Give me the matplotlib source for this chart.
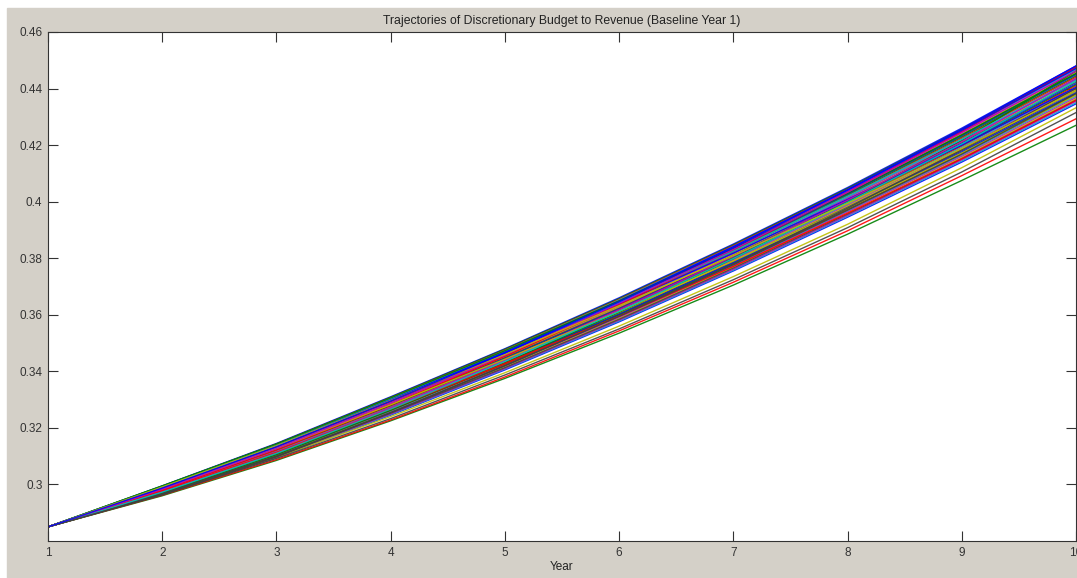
import matplotlib
matplotlib.use("Agg")
import matplotlib.pyplot as plt
from matplotlib.patches import Rectangle
from matplotlib.ticker import FuncFormatter

plt.rcParams['font.family'] = ['Liberation Sans', 'DejaVu Sans']

years = [1, 2, 3, 4, 5, 6, 7, 8, 9, 10]

# low outliers
low_green = [0.2850, 0.2960, 0.3085, 0.3225, 0.3375, 0.3535, 0.3705, 0.3885, 0.4075, 0.4270]
low_red = [0.2850, 0.2962, 0.3088, 0.3228, 0.3380, 0.3543, 0.3715, 0.3897, 0.4092, 0.4293]
low_yellow = [0.2850, 0.2966, 0.3096, 0.3240, 0.3395, 0.3560, 0.3735, 0.3920, 0.4120, 0.4332]
low_black = [0.2850, 0.2964, 0.3092, 0.3233, 0.3387, 0.3550, 0.3724, 0.3908, 0.4105, 0.4315]

# main bundle, top of the band first
bundle = [
    [0.2850, 0.2995, 0.3145, 0.3310, 0.3480, 0.3660, 0.3850, 0.4050, 0.4260, 0.4480],
    [0.2850, 0.2994, 0.3143, 0.3308, 0.3478, 0.3657, 0.3847, 0.4047, 0.4256, 0.4476],
    [0.2850, 0.2993, 0.3142, 0.3306, 0.3475, 0.3654, 0.3844, 0.4043, 0.4252, 0.4471],
    [0.2850, 0.2992, 0.3140, 0.3304, 0.3473, 0.3652, 0.3841, 0.4040, 0.4248, 0.4467],
    [0.2850, 0.2991, 0.3138, 0.3301, 0.3470, 0.3649, 0.3837, 0.4036, 0.4244, 0.4462],
    [0.2850, 0.2990, 0.3137, 0.3299, 0.3468, 0.3646, 0.3834, 0.4033, 0.4240, 0.4458],
    [0.2850, 0.2989, 0.3135, 0.3297, 0.3465, 0.3643, 0.3831, 0.4029, 0.4236, 0.4453],
    [0.2850, 0.2988, 0.3133, 0.3295, 0.3463, 0.3640, 0.3828, 0.4026, 0.4232, 0.4449],
    [0.2850, 0.2987, 0.3132, 0.3293, 0.3460, 0.3637, 0.3825, 0.4022, 0.4228, 0.4444],
    [0.2850, 0.2986, 0.3130, 0.3291, 0.3458, 0.3635, 0.3822, 0.4019, 0.4224, 0.4440],
    [0.2850, 0.2985, 0.3128, 0.3288, 0.3455, 0.3632, 0.3818, 0.4015, 0.4220, 0.4435],
    [0.2850, 0.2984, 0.3127, 0.3286, 0.3453, 0.3629, 0.3815, 0.4012, 0.4216, 0.4431],
    [0.2850, 0.2983, 0.3125, 0.3284, 0.3450, 0.3626, 0.3812, 0.4008, 0.4212, 0.4426],
    [0.2850, 0.2982, 0.3123, 0.3282, 0.3448, 0.3623, 0.3809, 0.4005, 0.4208, 0.4422],
    [0.2850, 0.2981, 0.3122, 0.3280, 0.3445, 0.3620, 0.3806, 0.4001, 0.4204, 0.4417],
    [0.2850, 0.2980, 0.3120, 0.3278, 0.3443, 0.3618, 0.3803, 0.3998, 0.4200, 0.4413],
    [0.2850, 0.2979, 0.3118, 0.3275, 0.3440, 0.3615, 0.3799, 0.3994, 0.4196, 0.4409],
    [0.2850, 0.2978, 0.3117, 0.3273, 0.3438, 0.3612, 0.3796, 0.3991, 0.4192, 0.4404],
    [0.2850, 0.2977, 0.3115, 0.3271, 0.3435, 0.3609, 0.3793, 0.3987, 0.4188, 0.4400],
    [0.2850, 0.2976, 0.3113, 0.3269, 0.3433, 0.3606, 0.3790, 0.3984, 0.4184, 0.4395],
    [0.2850, 0.2975, 0.3112, 0.3267, 0.3430, 0.3603, 0.3787, 0.3980, 0.4180, 0.4391],
    [0.2850, 0.2974, 0.3110, 0.3265, 0.3428, 0.3601, 0.3784, 0.3977, 0.4176, 0.4386],
    [0.2850, 0.2973, 0.3108, 0.3262, 0.3425, 0.3598, 0.3780, 0.3973, 0.4172, 0.4382],
    [0.2850, 0.2972, 0.3107, 0.3260, 0.3423, 0.3595, 0.3777, 0.3970, 0.4168, 0.4377],
    [0.2850, 0.2971, 0.3105, 0.3258, 0.3420, 0.3592, 0.3774, 0.3966, 0.4164, 0.4373],
    [0.2850, 0.2970, 0.3103, 0.3256, 0.3418, 0.3589, 0.3771, 0.3963, 0.4160, 0.4368],
    [0.2850, 0.2969, 0.3102, 0.3254, 0.3415, 0.3586, 0.3768, 0.3959, 0.4156, 0.4364],
    [0.2850, 0.2968, 0.3100, 0.3252, 0.3413, 0.3584, 0.3765, 0.3956, 0.4152, 0.4359],
]
bundle_low = [
    [0.2850, 0.2965, 0.3095, 0.3245, 0.3405, 0.3575, 0.3755, 0.3945, 0.4140, 0.4346],
    [0.2850, 0.2966, 0.3097, 0.3247, 0.3408, 0.3578, 0.3758, 0.3949, 0.4144, 0.4350],
    [0.2850, 0.2967, 0.3098, 0.3249, 0.3410, 0.3581, 0.3761, 0.3952, 0.4148, 0.4355],
]
# runs that drift across the band
crossing = [
    [0.2850, 0.2990, 0.3137, 0.3299, 0.3465, 0.3637, 0.3818, 0.4008, 0.4200, 0.4404],
    [0.2850, 0.2970, 0.3105, 0.3262, 0.3430, 0.3609, 0.3799, 0.4001, 0.4216, 0.4462],
    [0.2850, 0.2980, 0.3122, 0.3282, 0.3453, 0.3635, 0.3828, 0.4033, 0.4248, 0.4476],
    [0.2850, 0.2993, 0.3140, 0.3301, 0.3468, 0.3643, 0.3825, 0.4019, 0.4220, 0.4431],
    [0.2850, 0.2975, 0.3113, 0.3271, 0.3440, 0.3618, 0.3806, 0.4005, 0.4212, 0.4435],
    [0.2850, 0.2985, 0.3127, 0.3282, 0.3443, 0.3612, 0.3790, 0.3977, 0.4172, 0.4377],
    [0.2850, 0.2967, 0.3100, 0.3254, 0.3420, 0.3595, 0.3780, 0.3977, 0.4184, 0.4400],
    [0.2850, 0.2989, 0.3137, 0.3299, 0.3468, 0.3649, 0.3841, 0.4043, 0.4256, 0.4480],
    [0.2850, 0.2995, 0.3143, 0.3306, 0.3473, 0.3649, 0.3834, 0.4029, 0.4236, 0.4453],
    [0.2850, 0.2977, 0.3113, 0.3267, 0.3428, 0.3595, 0.3771, 0.3959, 0.4152, 0.4359],
    [0.2850, 0.2973, 0.3110, 0.3267, 0.3435, 0.3612, 0.3799, 0.3998, 0.4204, 0.4426],
    [0.2850, 0.2983, 0.3127, 0.3288, 0.3458, 0.3640, 0.3831, 0.4033, 0.4244, 0.4462],
    [0.2850, 0.2991, 0.3137, 0.3297, 0.3460, 0.3632, 0.3809, 0.3994, 0.4188, 0.4391],
    [0.2850, 0.2963, 0.3097, 0.3254, 0.3420, 0.3595, 0.3777, 0.3970, 0.4168, 0.4382],
    [0.2850, 0.2987, 0.3133, 0.3295, 0.3465, 0.3646, 0.3837, 0.4040, 0.4252, 0.4471],
]

# order chosen so the matlab color cycle (b g r c m y k) lands on the right lines
trajectories = [bundle_low[0], low_green, low_red, bundle_low[1], bundle_low[2],
                low_yellow, low_black] + bundle + crossing

matlab_colors = [(0, 0, 1), (0, 0.5, 0), (1, 0, 0), (0, 0.75, 0.75),
                 (0.75, 0, 0.75), (0.75, 0.75, 0), (0.25, 0.25, 0.25)]

fig = plt.figure(figsize=(10.77, 5.78), dpi=100, facecolor='white')
fig.patches.append(Rectangle((7 / 1077, 0), 1, 570 / 578, transform=fig.transFigure,
                             color='#d4d0c8', zorder=-1))

ax = fig.add_axes([48 / 1077, 37 / 578, 1028 / 1077, 509 / 578])
ax.set_prop_cycle(color=matlab_colors)
for traj in trajectories:
    ax.plot(years, traj, linewidth=1.0, alpha=0.9)

ax.set_xlim(1, 10)
ax.set_ylim(0.28, 0.46)
ax.set_xticks(years)
ax.set_yticks([0.30, 0.32, 0.34, 0.36, 0.38, 0.40, 0.42, 0.44, 0.46])
ax.yaxis.set_major_formatter(FuncFormatter(lambda v, p: '%g' % round(v, 2)))
ax.tick_params(direction='in', length=7, width=0.8, colors='#333333',
               labelsize=8.5, top=True, right=True, pad=4)
for s in ax.spines.values():
    s.set_color('#333333')
    s.set_linewidth(0.8)

ax.set_title('Trajectories of Discretionary Budget to Revenue (Baseline Year 1)',
             fontsize=8.8, color='#222222', pad=6)
ax.set_xlabel('Year', fontsize=8.5, color='#222222', labelpad=2)

fig.savefig('out.png', dpi=100, facecolor=fig.get_facecolor())
